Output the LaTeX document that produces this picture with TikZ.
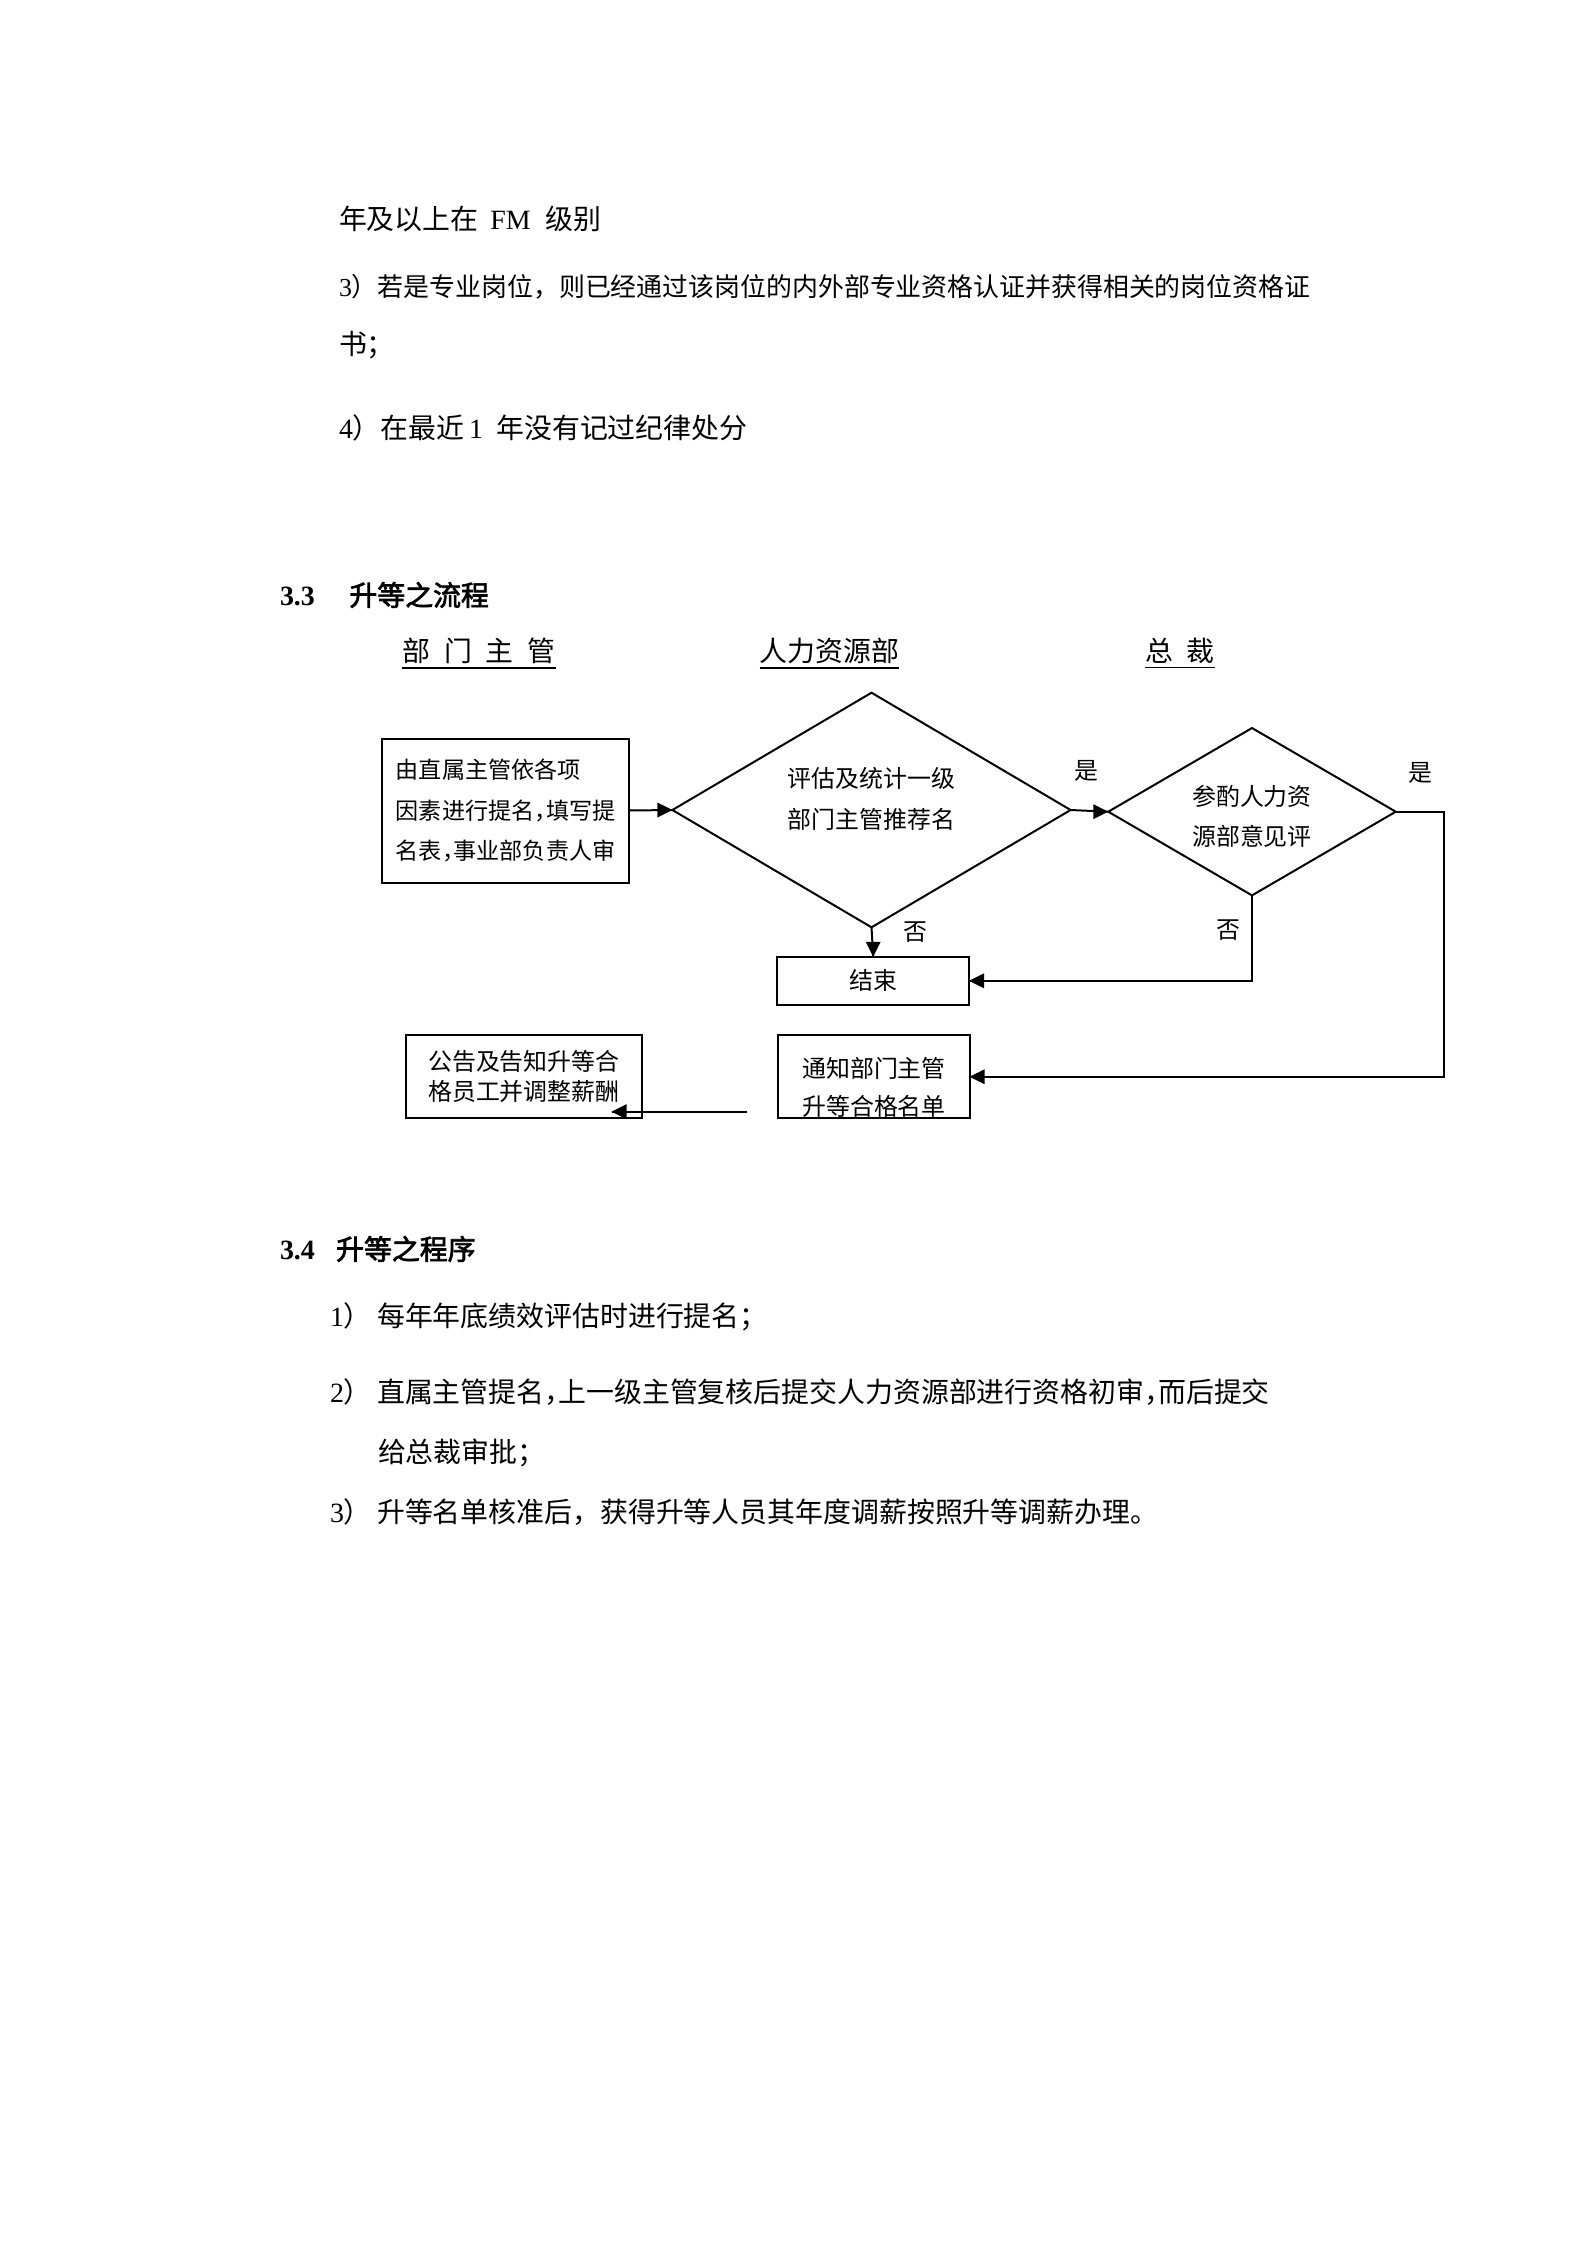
\documentclass[tikz,border=0pt]{standalone}
\usepackage{fontspec}
\setmainfont{Noto Sans CJK SC}
\newfontfamily\tnr{Liberation Serif}
\newfontfamily\cjkb[FakeBold=2.5]{Noto Sans CJK SC}
\newcommand{\hc}{，\kern-.5em}
\usepackage{tikz}
\usetikzlibrary{shapes.geometric}

\begin{document}
\begin{tikzpicture}[x=0.013229cm, y=0.013229cm]
    \tikzstyle{every node}+=[inner sep=0pt, outer sep=0pt]
    \tikzstyle{para}=[anchor=west, font=\fontsize{10.5}{14}\selectfont]
    \tikzstyle{hdr}=[font=\fontsize{10.5}{14}\selectfont]
    \tikzstyle{box}=[draw=black, line width=0.75pt, rectangle, align=center, font=\fontsize{9}{11.25}\selectfont]
    \tikzstyle{dia}=[draw=black, line width=0.75pt, diamond]
    \tikzstyle{txt}=[align=center, font=\fontsize{9}{15}\selectfont]
    \tikzstyle{lbl}=[font=\fontsize{9}{11}\selectfont]
    \tikzstyle{conn}=[black, line width=0.75pt]
    \useasboundingbox (0,0) rectangle (1587,-2245);
    \node [para] (t1) at (339,-219) {年及以上在\hspace{4.5pt}{\tnr FM}\hspace{5.5pt}级别};
    \node [para, font=\fontsize{9.75}{14}\selectfont] (t2) at (339,-287) {{\tnr 3}）若是专业岗位，则已经通过该岗位的内外部专业资格认证并获得相关的岗位资格证};
    \node [para] (t3) at (339,-345) {书；};
    \node [para] (t4) at (339,-428) {{\tnr 4}）在最近{\tnr\,1}\hspace{5pt}年没有记过纪律处分};
    \node [para] (h1) at (280,-595) {{\tnr\bfseries 3.3}\hspace{13pt}{\cjkb 升等之流程}};
    \node [hdr] (hd1) at (479,-654) {\underline{部\hspace{.5em}门\hspace{.5em}主\hspace{.5em}管}};
    \node [hdr] (hd2) at (829.4,-654) {\underline{人力资源部}};
    \node [hdr] (hd3) at (1180,-654) {\underline{总\hspace{.5em}裁}};
    \node [box, minimum width=92.9pt, minimum height=54.2pt, align=left, font=\fontsize{8.7}{15.4}\selectfont] (b1) at (505.6,-810.5) {由直属主管依各项\\因素进行提名\hc 填写提\\名表\hc 事业部负责人审};
    \node [dia, minimum width=149.9pt, minimum height=88.3pt] (d1) at (871.5,-810) {};
    \node [txt, font=\fontsize{9}{15.6}\selectfont] (d1t) at (871.5,-799) {评估及统计一级\\部门主管推荐名};
    \node [dia, minimum width=108.2pt, minimum height=63pt] (d2) at (1252,-811.7) {};
    \node [txt] (d2t) at (1252,-816.7) {参酌人力资\\源部意见评};
    \node [box, minimum width=72.2pt, minimum height=18.1pt] (js) at (873.2,-980.8) {结束};
    \node [box, minimum width=72pt, minimum height=31.2pt] (tz) at (874,-1076.7) {};
    \node [txt, font=\fontsize{9}{14.25}\selectfont] (tzt) at (874,-1087) {通知部门主管\\升等合格名单};
    \node [box, minimum width=88.75pt, minimum height=31.2pt] (gg) at (523.9,-1076.7) {公告及告知升等合\\格员工并调整薪酬};
    \node [lbl] (s1) at (1086,-771) {是};
    \node [lbl] (s2) at (1420,-773) {是};
    \node [lbl] (f1) at (915.5,-932) {否};
    \node [lbl] (f2) at (1228,-930) {否};
    \draw [conn] (b1.east) -- (d1.west);
    \fill [black] (d1.west) -- ++(-15,7.5) -- ++(0,-15);
    \draw [conn] (d1.east) -- (d2.west);
    \fill [black] (d2.west) -- ++(-15,7.5) -- ++(0,-15);
    \draw [conn] (d1.south) -- (js.north);
    \fill [black] (js.north) -- ++(-7.5,15) -- ++(15,0);
    \draw [conn] (d2.south) |- (js.east);
    \fill [black] (js.east) -- ++(15,7.5) -- ++(0,-15);
    \draw [conn] (d2.east) -- ++(48,0) |- (tz.east);
    \fill [black] (tz.east) -- ++(15,7.5) -- ++(0,-15);
    \coordinate (c1) at (747.4,-1111.7);
    \coordinate (c2) at (611.5,-1111.7);
    \draw [conn] (c1) -- (c2);
    \fill [black] (c2) -- ++(15,7.5) -- ++(0,-15);
    \node [para] (h2) at (280,-1249) {{\tnr\bfseries 3.4}\hspace{8pt}{\cjkb 升等之程序}};
    \node [para] (l1) at (330,-1317) {{\tnr 1}）\hspace{2pt}每年年底绩效评估时进行提名；};
    \node [para] (l2) at (330,-1392) {{\tnr 2}）\hspace{2pt}直属主管提名\hc 上一级主管复核后提交人力资源部进行资格初审\hc 而后提交};
    \node [para] (l2b) at (378,-1453) {给总裁审批；};
    \node [para] (l3) at (330,-1512) {{\tnr 3}）\hspace{2pt}升等名单核准后，获得升等人员其年度调薪按照升等调薪办理。};
\end{tikzpicture}
\end{document}
